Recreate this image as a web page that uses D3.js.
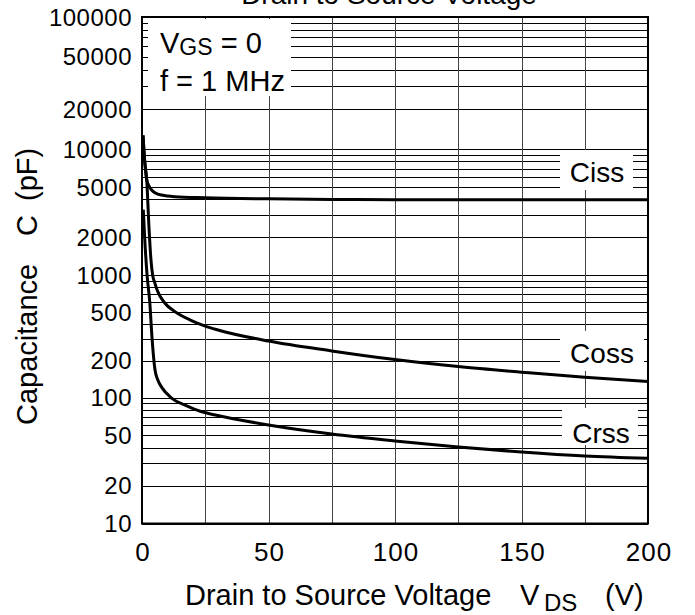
<!DOCTYPE html>
<html>
<head>
<meta charset="utf-8">
<script src="https://cdn.jsdelivr.net/npm/d3@7"></script>
<style>
  html, body { margin: 0; padding: 0; background: #fff; }
  svg { display: block; font-family: "Liberation Sans", Arial, Helvetica, sans-serif; }
  text { fill: #000; }
</style>
</head>
<body>
<script>
// Values (V in volts, C in pF)
const cissV = [0.4, 1.0, 1.86, 2.8, 3.8, 5.5, 7.8, 13, 25, 50, 75, 100, 150, 200];
const cissC = [12700, 8300, 5700, 5080, 4730, 4450, 4310, 4180, 4100, 4020, 3980, 3960, 3950, 3950];

const cossV = [0.4, 1.0, 1.86, 2.8, 3.5, 4.2, 5.0, 6.0, 9.0, 13, 20, 25, 30, 50, 75, 100, 125, 150, 175, 200];
const cossC = [12700, 8300, 5700, 2300, 1350, 1000, 870, 750, 591, 502, 421, 383, 356, 289, 240, 204, 179, 161, 146, 135];

const crssV = [0.5, 1.2, 2.0, 3.1, 3.9, 5.1, 6.3, 7.8, 11.7, 17, 23.6, 29, 50, 75, 100, 125, 150, 175, 200];
const crssC = [3300, 1750, 1000, 590, 320, 170, 138, 121, 99, 87, 77, 72.6, 60.5, 51.3, 45.2, 40.5, 36.9, 34.3, 32.9];

const xTicks = [0, 50, 100, 150, 200];
const xGrid = [25, 50, 75, 100, 125, 150, 175];
const yTicks = [100000, 50000, 20000, 10000, 5000, 2000, 1000, 500, 200, 100, 50, 20, 10];
const decades = [10, 100, 1000, 10000, 100000];

const width = 695, height = 615;
const plot = {left: 142, right: 648, top: 17, bottom: 523.5};

const svg = d3.select("body").append("svg")
    .attr("width", width)
    .attr("height", height);

const x = d3.scaleLinear().domain([0, 200]).range([plot.left, plot.right]);
// scanned log axis: decades are not quite evenly spaced, so pin each decade
const y = d3.scaleLog()
    .domain(decades)
    .range([plot.bottom, 397.5, 275, 149, plot.top]);

// snap hairlines to the pixel grid so they stay dark
const crisp = v => Math.round(v) + 0.5;

// grid lines 1..9 in each decade
let yGrid = [];
for (let d of decades.slice(0, -1)) {
    for (let k = 1; k <= 9; k++) yGrid.push(d * k);
}

svg.append("g")
    .selectAll("line")
    .data(yGrid)
    .join("line")
    .attr("x1", plot.left).attr("x2", plot.right)
    .attr("y1", d => crisp(y(d))).attr("y2", d => crisp(y(d)))
    .attr("stroke", "#000")
    .attr("stroke-width", 1);

svg.append("g")
    .selectAll("line")
    .data(xGrid)
    .join("line")
    .attr("x1", d => crisp(x(d))).attr("x2", d => crisp(x(d)))
    .attr("y1", plot.top).attr("y2", plot.bottom)
    .attr("stroke", "#444")
    .attr("stroke-width", 1);

// white boxes behind in-plot labels
const boxes = [
    {x0: 148, x1: 291, y0: 19, y1: 96},
    {x0: 560, x1: 633, y0: 150, y1: 190},
    {x0: 560, x1: 644, y0: 331, y1: 371},
    {x0: 562, x1: 638, y0: 408, y1: 445}
];
svg.append("g")
    .selectAll("rect")
    .data(boxes)
    .join("rect")
    .attr("x", d => d.x0).attr("y", d => d.y0)
    .attr("width", d => d.x1 - d.x0).attr("height", d => d.y1 - d.y0)
    .attr("fill", "#fff");

// curves
const line = d3.line()
    .x(d => x(d[0]))
    .y(d => y(d[1]))
    .curve(d3.curveMonotoneX);

const series = [
    d3.zip(cissV, cissC),
    d3.zip(cossV, cossC),
    d3.zip(crssV, crssC)
];
svg.append("g")
    .selectAll("path")
    .data(series)
    .join("path")
    .attr("d", line)
    .attr("fill", "none")
    .attr("stroke", "#000")
    .attr("stroke-width", 3)
    .attr("stroke-linejoin", "round");

// frame
svg.append("rect")
    .attr("x", plot.left).attr("y", plot.top)
    .attr("width", plot.right - plot.left).attr("height", plot.bottom - plot.top)
    .attr("fill", "none")
    .attr("stroke", "#000")
    .attr("stroke-width", 2);

// tick labels
svg.append("g")
    .selectAll("text")
    .data(yTicks)
    .join("text")
    .attr("x", 132)
    .attr("y", d => y(d))
    .attr("dy", "0.36em")
    .attr("text-anchor", "end")
    .style("font-size", "24px")
    .style("letter-spacing", "0.5px")
    .text(d => d);

svg.append("g")
    .selectAll("text")
    .data(xTicks)
    .join("text")
    .attr("x", d => x(d) + 1)
    .attr("y", 561)
    .attr("text-anchor", "middle")
    .style("font-size", "26px")
    .style("letter-spacing", "1px")
    .text(d => d);

// curve labels
const curveLabels = [
    {t: "Ciss", x: 597, y: 172},
    {t: "Coss", x: 602, y: 353},
    {t: "Crss", x: 601, y: 433}
];
svg.append("g")
    .selectAll("text")
    .data(curveLabels)
    .join("text")
    .attr("x", d => d.x).attr("y", d => d.y)
    .attr("dy", "0.36em")
    .attr("text-anchor", "middle")
    .style("font-size", "28px")
    .text(d => d.t);

// conditions
const cond = svg.append("text").attr("x", 160).attr("y", 53).style("font-size", "29px");
cond.append("tspan").text("V");
cond.append("tspan").attr("dy", 2).style("font-size", "23px").text("GS");
cond.append("tspan").attr("dy", -2).text(" = 0");

svg.append("text").attr("x", 160).attr("y", 91)
    .style("font-size", "29px")
    .text("f = 1 MHz");

// titles (the first line is clipped by the top edge, as in the source)
svg.append("text")
    .attr("x", 389).attr("y", 4)
    .attr("text-anchor", "middle")
    .style("font-size", "28px")
    .text("Drain to Source Voltage");

const xt = svg.append("text").attr("y", 605).style("font-size", "29px");
xt.append("tspan").attr("x", 185).text("Drain to Source Voltage");
xt.append("tspan").attr("x", 520).text("V");
xt.append("tspan").attr("x", 544).attr("dy", 6).style("font-size", "24px").text("DS");
xt.append("tspan").attr("x", 605).attr("dy", -6).text("(V)");

const yt = svg.append("text")
    .attr("transform", "translate(37,0) rotate(-90)")
    .style("font-size", "29px");
yt.append("tspan").attr("x", -425).text("Capacitance");
yt.append("tspan").attr("x", -236).text("C");
yt.append("tspan").attr("x", -201).text("(pF)");
</script>
</body>
</html>
